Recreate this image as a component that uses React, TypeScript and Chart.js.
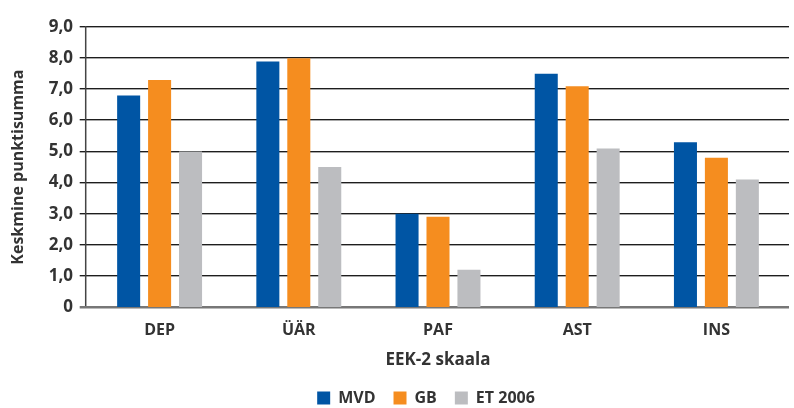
import React, { useEffect, useRef } from 'react';
import { Chart, registerables } from 'chart.js';

Chart.register(...registerables);

const categories = ['DEP', 'ÜÄR', 'PAF', 'AST', 'INS'];
const seriesNames = ['MVD', 'GB', 'ET 2006'];
const mvdValues = [6.8, 7.9, 3.0, 7.5, 5.3];
const gbValues = [7.3, 8.0, 2.9, 7.1, 4.8];
const et2006Values = [5.0, 4.5, 1.2, 5.1, 4.1];
const yTickLabels = ['0', '1,0', '2,0', '3,0', '4,0', '5,0', '6,0', '7,0', '8,0', '9,0'];
const xAxisTitle = 'EEK-2 skaala';
const yAxisTitle = 'Keskmine punktisumma';

const COLORS = ['#0055a4', '#f58d1f', '#bcbdc0'];
const TEXT = '#333333';
const FONT = 'Open Sans';

const gridPlugin = {
  id: 'refGrid',
  beforeDatasetsDraw(chart: any) {
    const { ctx, chartArea, scales } = chart;
    const y = scales.y;
    const axisX = chartArea.left - 4.3;
    const left = axisX - 6;
    const right = chartArea.right + 3;
    ctx.save();
    y.ticks.forEach((t: any) => {
      const py = Math.round(y.getPixelForValue(t.value));
      if (t.value === 0) return;
      ctx.fillStyle = '#1e1e1e';
      ctx.fillRect(left, py - 1, right - left, 1);
      ctx.fillStyle = '#a8a8a8';
      ctx.fillRect(left, py, right - left, 1);
    });
    const top = Math.round(y.getPixelForValue(y.max));
    const bottom = Math.round(y.getPixelForValue(0));
    ctx.strokeStyle = '#444444';
    ctx.lineWidth = 1.5;
    ctx.beginPath();
    ctx.moveTo(axisX, top - 1);
    ctx.lineTo(axisX, bottom);
    ctx.stroke();
    ctx.fillStyle = '#777777';
    ctx.fillRect(left, bottom - 1, right - left, 2.5);
    ctx.restore();
  },
};

const legendShiftPlugin = {
  id: 'legendShift',
  afterLayout(chart: any) {
    const lg = chart.legend;
    if (lg) {
      lg.left -= 24;
    }
  },
};

export default function App() {
  const canvasRef = useRef<HTMLCanvasElement | null>(null);

  useEffect(() => {
    document.body.style.margin = '0';
    const canvas = canvasRef.current;
    if (!canvas) return;
    const chart = new Chart(canvas, {
      type: 'bar',
      data: {
        labels: categories,
        datasets: [
          { label: seriesNames[0], data: mvdValues, backgroundColor: COLORS[0] },
          { label: seriesNames[1], data: gbValues, backgroundColor: COLORS[1] },
          { label: seriesNames[2], data: et2006Values, backgroundColor: COLORS[2] },
        ],
      },
      options: {
        responsive: false,
        animation: false,
        devicePixelRatio: 1,
        layout: { padding: { left: 0, right: 8, top: 16, bottom: 0 } },
        datasets: {
          bar: { categoryPercentage: 0.667, barPercentage: 0.744, borderWidth: 0 },
        },
        plugins: {
          tooltip: { enabled: false },
          legend: {
            position: 'bottom',
            fullSize: false,
            labels: {
              boxWidth: 13,
              boxHeight: 13,
              padding: 18,
              color: TEXT,
              font: { family: FONT, size: 16, weight: 'bold' },
            },
          },
        },
        scales: {
          x: {
            grid: { display: false, drawTicks: false },
            border: { display: false },
            ticks: {
              color: TEXT,
              padding: 14,
              font: { family: FONT, size: 16, weight: 'bold' },
            },
            title: {
              display: true,
              text: xAxisTitle,
              color: TEXT,
              font: { family: FONT, size: 17, weight: 'bold' },
              padding: { top: 0, bottom: 2 },
            },
            afterFit: (s: any) => {
              s.height = 65;
            },
          },
          y: {
            min: 0,
            max: 9,
            grid: { display: false, drawTicks: false },
            border: { display: false },
            ticks: {
              stepSize: 1,
              color: TEXT,
              padding: 17,
              font: { family: FONT, size: 17, weight: 'bold' },
              callback: (_v: any, i: number) => yTickLabels[i],
            },
            title: {
              display: true,
              text: yAxisTitle,
              color: TEXT,
              font: { family: FONT, size: 16, weight: 'bold' },
              padding: { top: 9, bottom: 0 },
            },
            afterFit: (s: any) => {
              s.width = 90;
            },
          },
        },
      },
      plugins: [gridPlugin, legendShiftPlugin],
    });
    return () => chart.destroy();
  }, []);

  return (
    <div style={{ width: 794, height: 408, overflow: 'hidden', position: 'relative' }}>
      <canvas ref={canvasRef} width={794} height={416} style={{ display: 'block' }} />
    </div>
  );
}
